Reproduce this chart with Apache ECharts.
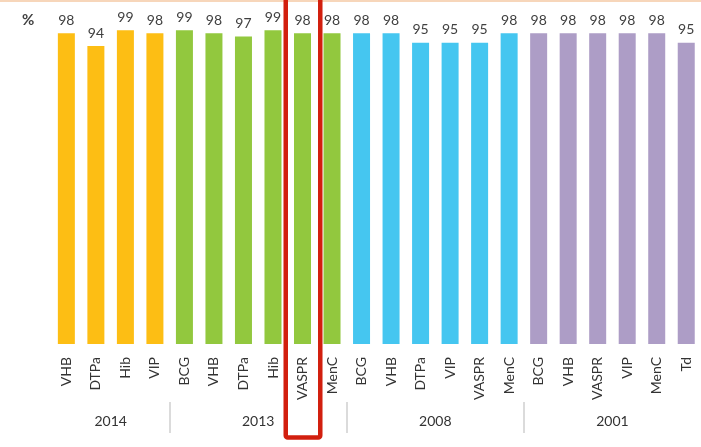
<!DOCTYPE html>
<html>
<head>
<meta charset="utf-8">
<script src="https://cdn.jsdelivr.net/npm/echarts@6/dist/echarts.min.js"></script>
<style>html,body{margin:0;padding:0;background:#fff}#c{width:701px;height:447px}</style>
</head>
<body>
<div id="c"></div>
<script>
var vaccines = ['VHB','DTPa','Hib','VIP','BCG','VHB','DTPa','Hib','VASPR','MenC','BCG','VHB','DTPa','VIP','VASPR','MenC','BCG','VHB','VASPR','VIP','MenC','Td'];
var coverage = [98,94,99,98, 99,98,97,99,98,98, 98,98,95,95,95,98, 98,98,98,98,98,95];
var years = ['2014','2013','2008','2001'];
var groupSizes = [4,6,6,6];
var groupColors = ['#FDBE14','#92C83E','#45C6F0','#AD9DC6'];
var highlightIndex = 8;

var colorOf = [];
var yearCenters = [];
var yearBounds = [];
(function(){
  var start = 0;
  for (var g = 0; g < groupSizes.length; g++) {
    for (var k = 0; k < groupSizes[g]; k++) colorOf.push(groupColors[g]);
    yearCenters.push(start + groupSizes[g] / 2);
    start += groupSizes[g];
    if (g < groupSizes.length - 1) yearBounds.push(start);
  }
})();

var chart = echarts.init(document.getElementById('c'), null, {renderer:'canvas'});
var font = 'Lato, "Open Sans", sans-serif';
chart.setOption({
  animation: false,
  title: {text: '%', left: 17, top: 8, textStyle: {fontSize: 15, fontWeight: 'bold', color: '#404040', fontFamily: font}},
  graphic: [{type: 'rect', left: 0, top: 0, shape: {width: 701, height: 2}, style: {fill: '#F7D6BA'}}],
  grid: {left: 51.6, right: -5.9, top: 27, bottom: 103},
  xAxis: [{
    type: 'category', data: vaccines,
    axisLine: {show: false}, axisTick: {show: false},
    axisLabel: {rotate: 90, margin: 13, fontSize: 14, color: '#333', fontFamily: font, interval: 0}
  }, {
    type: 'value', min: 0, max: vaccines.length, position: 'bottom', offset: 58,
    axisLine: {show: false}, splitLine: {show: false},
    axisTick: {show: true, customValues: yearBounds, length: 31, lineStyle: {color: '#d0d0d0', width: 1.5}},
    axisLabel: {customValues: yearCenters, margin: 12, fontSize: 14, color: '#333', fontFamily: font,
      formatter: function(v){ var i = yearCenters.indexOf(v); return i >= 0 ? years[i] : ''; }}
  }],
  yAxis: {type: 'value', min: 0, max: 100, show: false},
  series: [{
    type: 'bar', barWidth: 17, xAxisIndex: 0,
    data: coverage.map(function(v, i){ return {value: v, itemStyle: {color: colorOf[i]}}; }),
    label: {show: true, position: 'top', distance: 6, fontSize: 14, color: '#404040', fontFamily: font}
  }, {
    type: 'custom', xAxisIndex: 0, clip: false, z: 10,
    data: [[highlightIndex, 0]],
    renderItem: function(params, api){
      var p = api.coord([api.value(0), 0]);
      var w = api.size([1, 0])[0];
      return {type: 'rect', shape: {x: p[0] - w/2 - 2, y: -10, width: w + 5, height: 447.5, r: 2},
        style: {fill: 'none', stroke: '#D21F0E', lineWidth: 4.5}};
    }
  }]
});
</script>
</body>
</html>
